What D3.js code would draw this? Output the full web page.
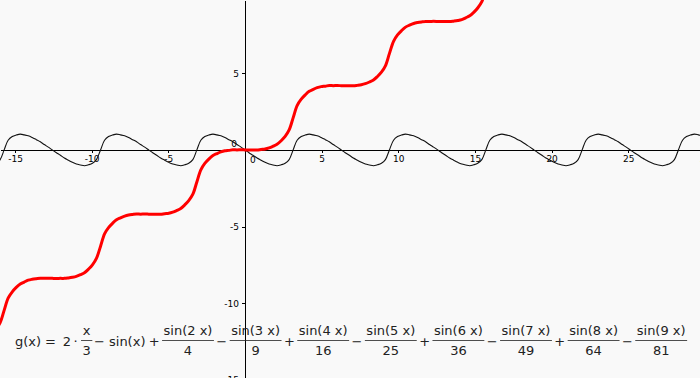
<!DOCTYPE html>
<html>
<head>
<meta charset="utf-8">
<script src="https://cdn.jsdelivr.net/npm/d3@7"></script>
<style>
body{margin:0;background:#f9f9f9;}
svg{display:block;font-family:"DejaVu Sans",sans-serif;}
</style>
</head>
<body>
<svg id="graphZone" width="700" height="378"></svg>
<script>
/************************************ Data *******************************/
// x samples (same for both curves)
var xs = [-16.23,-15.97,-15.71,-15.45,-15.18,-14.92,-14.66,-14.40,-14.14,-13.88,
	-13.61,-13.35,-13.09,-12.83,-12.57,-12.30,-12.04,-11.78,-11.52,-11.26,
	-11.00,-10.73,-10.47,-10.21,-9.95,-9.69,-9.42,-9.16,-8.90,-8.64,
	-8.38,-8.12,-7.85,-7.59,-7.33,-7.07,-6.81,-6.54,-6.28,-6.02,
	-5.76,-5.50,-5.24,-4.97,-4.71,-4.45,-4.19,-3.93,-3.67,-3.40,
	-3.14,-2.88,-2.62,-2.36,-2.09,-1.83,-1.57,-1.31,-1.05,-0.79,-0.52,-0.26,
	0,
	0.26,0.52,0.79,1.05,1.31,1.57,1.83,2.09,2.36,2.62,2.88,3.14,
	3.40,3.67,3.93,4.19,4.45,4.71,4.97,5.24,5.50,5.76,
	6.02,6.28,6.54,6.81,7.07,7.33,7.59,7.85,8.12,8.38,
	8.64,8.90,9.16,9.42,9.69,9.95,10.21,10.47,10.73,11.00,
	11.26,11.52,11.78,12.04,12.30,12.57,12.83,13.09,13.35,13.61,
	13.88,14.14,14.40,14.66,14.92,15.18,15.45,15.71,15.97,16.23,
	16.49,16.76,17.02,17.28,17.54,17.80,18.06,18.33,18.59,18.85,
	19.11,19.37,19.63,19.90,20.16,20.42,20.68,20.94,21.21,21.47,
	21.73,21.99,22.25,22.51,22.78,23.04,23.30,23.56,23.82,24.09,
	24.35,24.61,24.87,25.13,25.39,25.66,25.92,26.18,26.44,26.70,
	26.97,27.23,27.49,27.75,28.01,28.27,28.54,28.80,29.06,29.32,29.58,29.85];

// thin black curve
var blackYs = [-0.87,-0.63,0,0.63,0.87,0.97,1.03,0.98,0.92,0.81,0.67,0.53,0.35,0.18,
	0,-0.18,-0.35,-0.53,-0.67,-0.81,-0.92,-0.98,-1.03,-0.97,-0.87,-0.63,0,0.63,0.87,0.97,1.03,0.98,0.92,0.81,0.67,0.53,0.35,0.18,
	0,-0.18,-0.35,-0.53,-0.67,-0.81,-0.92,-0.98,-1.03,-0.97,-0.87,-0.63,0,0.63,0.87,0.97,1.03,0.98,0.92,0.81,0.67,0.53,0.35,0.18,
	0,-0.18,-0.35,-0.53,-0.67,-0.81,-0.92,-0.98,-1.03,-0.97,-0.87,-0.63,0,0.63,0.87,0.97,1.03,0.98,0.92,0.81,0.67,0.53,0.35,0.18,
	0,-0.18,-0.35,-0.53,-0.67,-0.81,-0.92,-0.98,-1.03,-0.97,-0.87,-0.63,0,0.63,0.87,0.97,1.03,0.98,0.92,0.81,0.67,0.53,0.35,0.18,
	0,-0.18,-0.35,-0.53,-0.67,-0.81,-0.92,-0.98,-1.03,-0.97,-0.87,-0.63,0,0.63,0.87,0.97,1.03,0.98,0.92,0.81,0.67,0.53,0.35,0.18,
	0,-0.18,-0.35,-0.53,-0.67,-0.81,-0.92,-0.98,-1.03,-0.97,-0.87,-0.63,0,0.63,0.87,0.97,1.03,0.98,0.92,0.81,0.67,0.53,0.35,0.18,
	0,-0.18,-0.35,-0.53,-0.67,-0.81,-0.92,-0.98,-1.03,-0.97,-0.87,-0.63,0,0.63,0.87,0.97,1.03,0.98,0.92];

// thick red curve g(x), uses the first xs only
var redYs = [-11.69,-11.27,-10.47,-9.67,-9.26,-8.97,-8.75,-8.62,-8.50,-8.44,-8.40,-8.37,-8.38,-8.37,
	-8.38,-8.39,-8.38,-8.38,-8.35,-8.31,-8.25,-8.14,-8.01,-7.78,-7.50,-7.08,
	-6.28,-5.48,-5.07,-4.79,-4.56,-4.43,-4.32,-4.25,-4.21,-4.18,-4.19,-4.18,
	-4.19,-4.20,-4.19,-4.20,-4.16,-4.13,-4.06,-3.95,-3.82,-3.59,-3.31,-2.89,
	-2.09,-1.30,-0.88,-0.60,-0.37,-0.24,-0.13,-0.06,-0.03,0.01,0.00,0.01,
	0,
	-0.01,0.00,-0.01,0.03,0.06,0.13,0.24,0.37,0.60,0.88,1.30,2.09,
	2.89,3.31,3.59,3.82,3.95,4.06,4.13,4.16,4.20,4.19,4.20,4.19,
	4.18,4.19,4.18,4.21,4.25,4.32,4.43,4.56,4.79,5.07,5.48,6.28,
	7.08,7.50,7.78,8.01,8.14,8.25,8.31,8.35,8.38,8.38,8.39,8.38,
	8.37,8.38,8.37,8.40,8.44,8.50,8.62,8.75,8.97,9.26,9.67,10.47,11.27];

var xTicks = [-15,-10,-5,5,10,15,20,25,30];
var yTicks = [-15,-10,-5,5,10];

// formula text g(x) = ...
var fracNums = ["x","sin(2 x)","sin(3 x)","sin(4 x)","sin(5 x)","sin(6 x)","sin(7 x)","sin(8 x)","sin(9 x)"];
var fracDens = ["3","4","9","16","25","36","49","64","81"];
var fracSigns = ["·","+","\u2212","+","\u2212","+","\u2212","+","\u2212"];

/************************************ Scales *******************************/
var W = 700, H = 378;
var svg = d3.select("#graphZone");
var x = d3.scaleLinear().domain([-15.98, 29.68]).range([0, W]);
var y = d3.scaleLinear().domain([9.78, -14.88]).range([0, H]);

/************************************ Axes *******************************/
var gx = svg.append("g")
	.attr("transform", "translate(0," + Math.round(y(0)) + ")")
	.call(d3.axisBottom(x).tickValues(xTicks).tickSize(3).tickSizeOuter(0)
		.tickFormat(function(d){ return String(d); }));
var gy = svg.append("g")
	.attr("transform", "translate(" + Math.round(x(0)) + ",0)")
	.call(d3.axisLeft(y).tickValues(yTicks).tickSize(3).tickSizeOuter(0)
		.tickFormat(function(d){ return String(d); }));
[gx, gy].forEach(function(g){
	g.attr("font-family", "DejaVu Sans, sans-serif").attr("font-size", 9);
	g.selectAll("path,line").attr("stroke", "#000").attr("shape-rendering", "crispEdges");
	g.selectAll("text").attr("fill", "#000");
});
// the two zeros near the origin
svg.append("text").attr("x", x(0) - 8).attr("y", y(0) - 3)
	.attr("text-anchor", "end").attr("font-size", 9).text("0");
svg.append("text").attr("x", x(0) + 8).attr("y", y(0) + 13)
	.attr("text-anchor", "middle").attr("font-size", 9).text("0");

/************************************ Curves *******************************/
var line = d3.line()
	.x(function(d){ return x(d[0]); })
	.y(function(d){ return y(d[1]); })
	.curve(d3.curveCatmullRom.alpha(0.5));

svg.append("path")
	.datum(blackYs.map(function(v, i){ return [xs[i], v]; }))
	.attr("d", line)
	.attr("fill", "none").attr("stroke", "#111").attr("stroke-width", 1.1);

svg.append("path")
	.datum(redYs.map(function(v, i){ return [xs[i], v]; }))
	.attr("d", line)
	.attr("fill", "none").attr("stroke", "#ff0000").attr("stroke-width", 3)
	.attr("stroke-linejoin", "round");

/************************************ Formula *******************************/
var fz = svg.append("g").attr("font-size", 13).attr("fill", "#222");
var baseY = 346, numY = 335, denY = 355, barY = 340.5;

function frac(cx, num, den){
	var t1 = fz.append("text").attr("x", cx).attr("y", numY).attr("text-anchor", "middle").text(num);
	var t2 = fz.append("text").attr("x", cx).attr("y", denY).attr("text-anchor", "middle").text(den);
	var w = Math.max(t1.node().getComputedTextLength(), t2.node().getComputedTextLength()) + 3;
	fz.append("line").attr("x1", cx - w / 2).attr("x2", cx + w / 2)
		.attr("y1", barY).attr("y2", barY).attr("stroke", "#222").attr("stroke-width", 0.8);
}
function word(px, s, anchor){
	fz.append("text").attr("x", px).attr("y", baseY).attr("text-anchor", anchor || "middle").text(s);
}

word(15, "g(x)", "start");
word(50.5, "=");
word(67, "2");
word(75.5, fracSigns[0]);
frac(86.7, fracNums[0], fracDens[0]);
word(99.5, "\u2212");
word(109, "sin(x)", "start");
var pitch = 67.6;
fracNums.forEach(function(n, i){
	if (i === 0) return;
	var cx = 188 + (i - 1) * pitch;
	word(cx - pitch / 2, fracSigns[i]);
	frac(cx, n, fracDens[i]);
});
</script>
</body>
</html>
